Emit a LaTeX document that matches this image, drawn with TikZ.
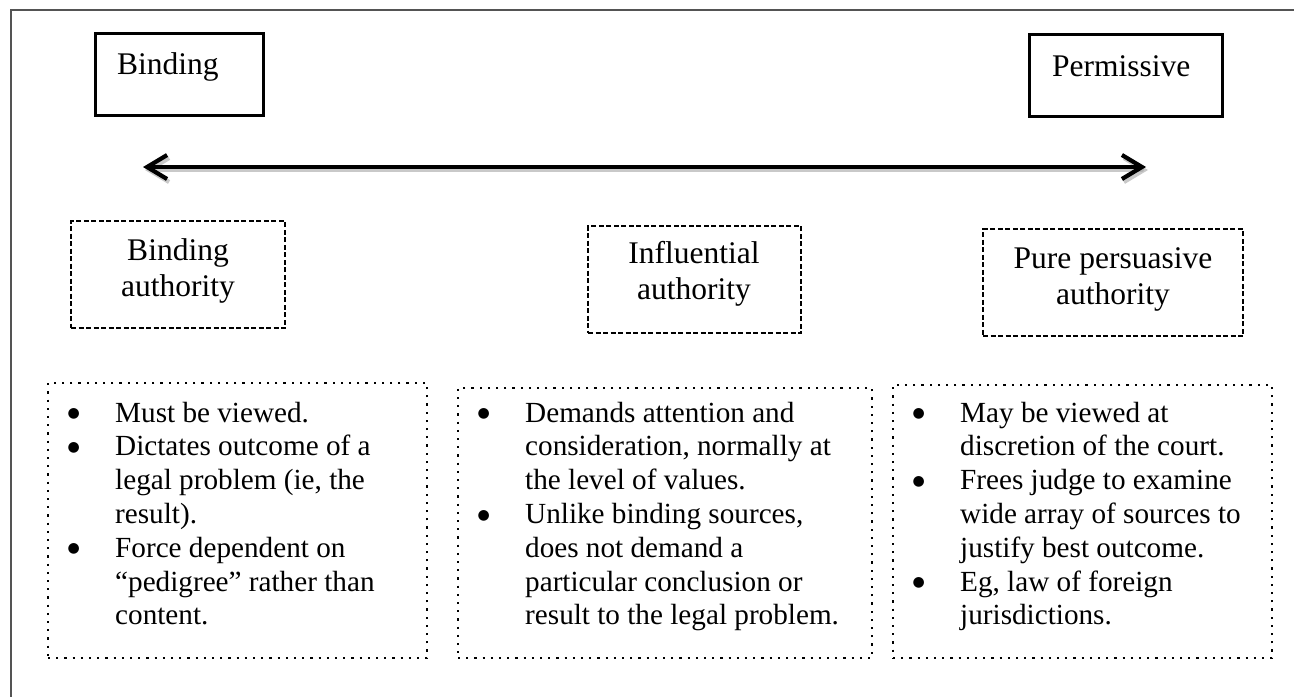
\documentclass[tikz,border=0pt]{standalone}
\usepackage{fontspec}
\setmainfont{Liberation Serif}
\newfontfamily\dejavu{DejaVu Sans}
\usetikzlibrary{arrows.meta,shadows}
\definecolor{framegray}{gray}{0.33}
\newcommand{\bu}{\makebox[67pt][l]{\hspace*{19.5pt}\raisebox{4.5pt}{\dejavu\fontsize{14}{14}\selectfont ●}}}
\newcommand{\ind}{\hspace*{67pt}}
\newcommand{\headfont}{\fontsize{31.5}{36.3}\selectfont}
\newcommand{\bodyfont}{\fontsize{29.2}{33.8}\selectfont}
\begin{document}
\begin{tikzpicture}[x=1pt,y=-1pt,
  solidbox/.style={draw, fill=white, line width=3pt, inner sep=0pt,
    drop shadow={shadow xshift=1.5pt, shadow yshift=-1.5pt, fill=black!30}},
  dashbox/.style={draw, line width=1.5pt, dash pattern=on 5pt off 2.5pt, inner sep=0pt},
  dotbox/.style={draw, line width=2.2pt, dash pattern=on 2.2pt off 6pt, inner sep=0pt},
  headtext/.style={font=\headfont, align=center, inner sep=0pt, anchor=north},
  toptext/.style={font=\headfont, inner sep=0pt, anchor=base west},
  bodytext/.style={font=\bodyfont, align=left, inner sep=0pt, anchor=north west},
  bigarrow/.style={line width=4.2pt, line cap=round,
    {Straight Barb[length=20pt,width=24pt]}-{Straight Barb[length=20pt,width=24pt]}},
  arrowshadow/.style={bigarrow, draw=black!35, opacity=0.6}]
\useasboundingbox[fill=white] (0,0) rectangle (1294,697);
% outer frame
\coordinate (fTR) at (1294,10);
\coordinate (fTL) at (11,10);
\coordinate (fBL) at (11,697);
\draw[framegray, line width=1.5pt] (fTR) -- (fTL) -- (fBL);

% top boxes
\node[solidbox, minimum width=168pt, minimum height=82pt] (bind) at (179,74) {};
\node[toptext] (bindt) at (117,74) {Binding};
\node[solidbox, minimum width=193pt, minimum height=82pt] (perm) at (1125.5,75) {};
\node[toptext] (permt) at (1052,76) {Permissive};

% arrow
\coordinate (aL) at (143,167);
\coordinate (aR) at (1146,167);
\draw[arrowshadow] ([shift={(2,3)}]aL) -- ([shift={(2,3)}]aR);
\draw[bigarrow] (aL) -- (aR);

% dashed heading boxes
\node[dashbox, minimum width=214pt, minimum height=107pt] (d1) at (178,274.5) {};
\node[headtext] (d1t) at (178,234.6) {\strut Binding\\authority};
\node[dashbox, minimum width=213pt, minimum height=107pt] (d2) at (694.5,279.5) {};
\node[headtext] (d2t) at (694,237.6) {\strut Influential\\authority};
\node[dashbox, minimum width=260pt, minimum height=107pt] (d3) at (1113,282.5) {};
\node[headtext] (d3t) at (1113,242.6) {\strut Pure persuasive\\authority};

% dotted bullet boxes
\node[dotbox, minimum width=379pt, minimum height=275pt] (b1) at (237.5,520.5) {};
\node[bodytext] (b1t) at (48,398.3) {\bu\strut Must be viewed.\\
\bu Dictates outcome of a\\
\ind legal problem (ie, the\\
\ind result).\\
\bu Force dependent on\\
\ind “pedigree” rather than\\
\ind content.};

\node[dotbox, minimum width=414pt, minimum height=270pt] (b2) at (665,523) {};
\node[bodytext] (b2t) at (458,398.3) {\bu\strut Demands attention and\\
\ind consideration, normally at\\
\ind the level of values.\\
\bu Unlike binding sources,\\
\ind does not demand a\\
\ind particular conclusion or\\
\ind result to the legal problem.};

\node[dotbox, minimum width=379pt, minimum height=273pt] (b3) at (1082.5,521.5) {};
\node[bodytext] (b3t) at (893,398.3) {\bu\strut May be viewed at\\
\ind discretion of the court.\\
\bu Frees judge to examine\\
\ind wide array of sources to\\
\ind justify best outcome.\\
\bu Eg, law of foreign\\
\ind jurisdictions.};
\end{tikzpicture}
\end{document}
